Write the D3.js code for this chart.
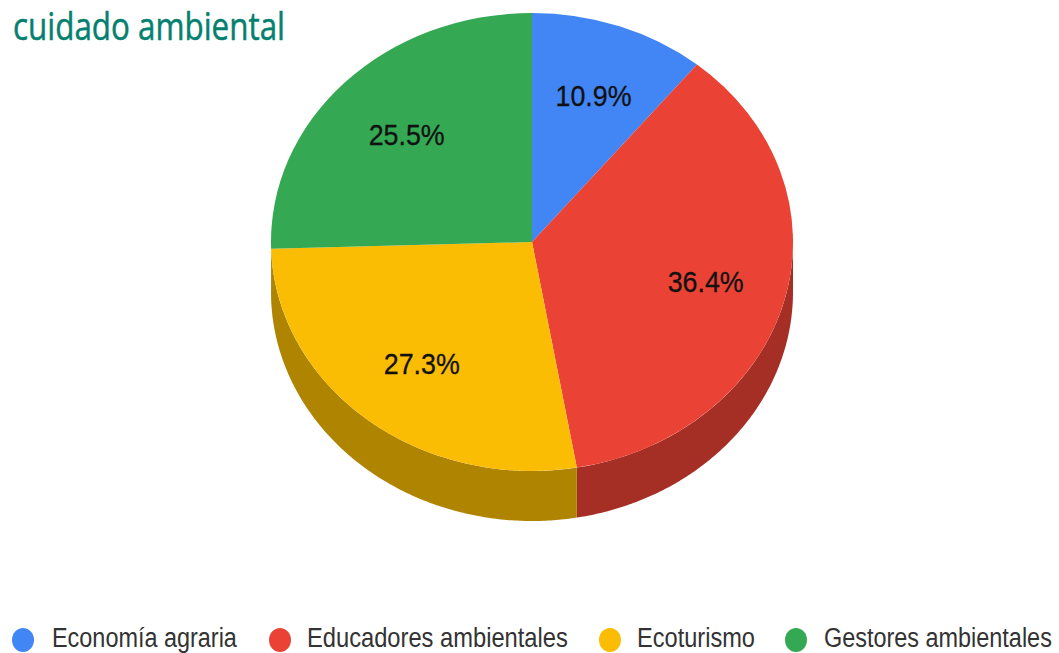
<!DOCTYPE html>
<html>
<head>
<meta charset="utf-8">
<script src="https://cdn.jsdelivr.net/npm/d3@7"></script>
<style>
  html, body { margin: 0; padding: 0; background: #fff; overflow: hidden; }
</style>
</head>
<body>
<svg id="chart" width="1059" height="653"></svg>
<script>
// --- Data ---
const categories = ["Economía agraria", "Educadores ambientales", "Ecoturismo", "Gestores ambientales"];
const values = [10.9, 36.4, 27.3, 25.5];
const colors = ["#4285f4", "#ea4335", "#fbbc04", "#34a853"];
const sideColors = ["#2f5fae", "#a52e25", "#ae8400", "#25773b"];
const titleText = "cuidado ambiental";

// layout
const cx = 532, cy = 242, rx = 261, ry = 229, depth = 50;
const legendX = [23, 280, 610, 796];
const legendTextX = [52, 307, 637, 824];
const legendTextW = [185, 261, 118, 228];

const svg = d3.select("#chart");

svg.append("text")
  .attr("x", 13).attr("y", 40)
  .attr("font-family", "'Open Sans', sans-serif")
  .attr("font-size", 38)
  .attr("fill", "#04806f")
  .attr("stroke", "#04806f")
  .attr("stroke-width", 0.5)
  .attr("textLength", 272)
  .attr("lengthAdjust", "spacingAndGlyphs")
  .text(titleText);

const pie = d3.pie().sort(null)(values);

// side wall, only the front half of the ellipse can be seen
const wall = svg.append("g").attr("transform", `translate(${cx},${cy})`);
pie.forEach((d, i) => {
  const a0 = Math.max(d.startAngle, Math.PI / 2);
  const a1 = Math.min(d.endAngle, Math.PI * 3 / 2);
  if (a1 <= a0) return;
  const angles = d3.range(a0, a1, 0.01).concat([a1]);
  const top = angles.map(a => [rx * Math.sin(a), -ry * Math.cos(a)]);
  const bottom = top.map(p => [p[0], p[1] + depth]).reverse();
  wall.append("path")
    .attr("d", d3.line()(top.concat(bottom)) + "Z")
    .attr("fill", sideColors[i]);
});

// top face, a circle squashed into an ellipse
const arc = d3.arc().innerRadius(0).outerRadius(rx);
svg.append("g")
  .attr("transform", `translate(${cx},${cy}) scale(1,${ry / rx})`)
  .selectAll("path")
  .data(pie)
  .join("path")
  .attr("d", arc)
  .attr("fill", (d, i) => colors[i]);

// percent labels
const labelArc = d3.arc().innerRadius(rx * 0.68).outerRadius(rx * 0.68);
svg.append("g")
  .selectAll("text")
  .data(pie)
  .join("text")
  .attr("x", d => cx + labelArc.centroid(d)[0] + 2)
  .attr("y", d => cy + labelArc.centroid(d)[1] * ry / rx + 11)
  .attr("text-anchor", "middle")
  .attr("font-family", "'Liberation Sans', Arial, sans-serif")
  .attr("font-size", 30)
  .attr("fill", "#111")
  .attr("stroke", "#111")
  .attr("stroke-width", 0.3)
  .attr("textLength", 76)
  .attr("lengthAdjust", "spacingAndGlyphs")
  .text(d => d.value.toFixed(1) + "%");

// legend, text squeezed horizontally to the width it has in the picture
const legend = svg.append("g");
categories.forEach((c, i) => {
  legend.append("ellipse")
    .attr("cx", legendX[i]).attr("cy", 640)
    .attr("rx", 11).attr("ry", 12)
    .attr("fill", colors[i]);
  const t = legend.append("text")
    .attr("font-family", "'Liberation Sans', Arial, sans-serif")
    .attr("font-size", 27)
    .attr("fill", "#333")
    .text(c);
  const sx = legendTextW[i] / t.node().getComputedTextLength();
  t.attr("transform", `translate(${legendTextX[i]},647) scale(${sx},1)`);
});
</script>
</body>
</html>
